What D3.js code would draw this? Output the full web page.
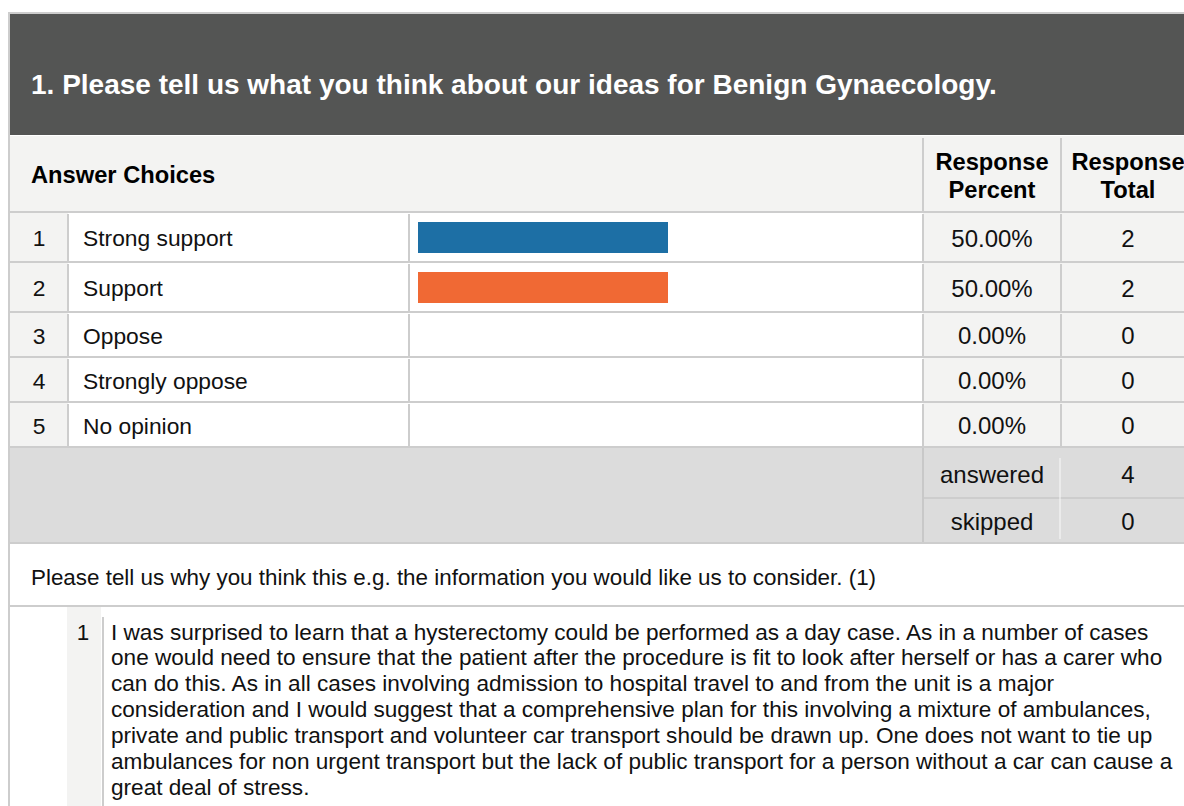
<!DOCTYPE html>
<html>
<head>
<meta charset="utf-8">
<script src="https://cdn.jsdelivr.net/npm/d3@7"></script>
<style>
  html, body { margin: 0; padding: 0; background: #fff; overflow: hidden; }
  svg { display: block; font-family: Arial, "Liberation Sans", sans-serif; }
</style>
</head>
<body>
<svg id="chart"></svg>
<script>
// survey data
var title = "1. Please tell us what you think about our ideas for Benign Gynaecology.";
var choices = ["Strong support", "Support", "Oppose", "Strongly oppose", "No opinion"];
var percents = [50, 50, 0, 0, 0];
var totals = [2, 2, 0, 0, 0];
var answered = 4;
var skipped = 0;
var barColors = ["#1d6fa5", "#f06934"];
var followUp = "Please tell us why you think this e.g. the information you would like us to consider. (1)";
var comments = [
  ["I was surprised to learn that a hysterectomy could be performed as a day case. As in a number of cases",
   "one would need to ensure that the patient after the procedure is fit to look after herself or has a carer who",
   "can do this. As in all cases involving admission to hospital travel to and from the unit is a major",
   "consideration and I would suggest that a comprehensive plan for this involving a mixture of ambulances,",
   "private and public transport and volunteer car transport should be drawn up. One does not want to tie up",
   "ambulances for non urgent transport but the lack of public transport for a person without a car can cause a",
   "great deal of stress."]
];

var W = 1184, H = 806;
var svg = d3.select("#chart").attr("width", W).attr("height", H);

var left = 10, right = 1200;
var col = {num: 10, label: 68, bar: 409, pct: 923, tot: 1061, end: 1195};
var lineCol = "#cdcdcd", lightBg = "#f3f3f2", sumBg = "#dcdcdc";
var labelSize = "22.8px", statSize = "24px", textCol = "#111";

// header
svg.append("rect").attr("x", left).attr("y", 14).attr("width", right - left).attr("height", 121).attr("fill", "#545554");
svg.append("line").attr("x1", left).attr("x2", right).attr("y1", 13).attr("y2", 13).attr("stroke", lineCol).attr("stroke-width", 2);
svg.append("text").attr("x", 31).attr("y", 84).attr("dominant-baseline", "central")
  .attr("fill", "#fff").style("font-weight", "bold").style("font-size", "28px").text(title);

// column header row
var hy0 = 136, hy1 = 212;
svg.append("rect").attr("x", left).attr("y", hy0).attr("width", right - left).attr("height", hy1 - hy0).attr("fill", lightBg);
svg.append("text").attr("x", 31).attr("y", 175).attr("dominant-baseline", "central")
  .style("font-weight", "bold").style("font-size", "23.7px").attr("fill", "#000").text("Answer Choices");
[[col.pct, col.tot], [col.tot, col.end]].forEach(function(c, i) {
  var cx = (c[0] + c[1]) / 2;
  var t = svg.append("text").attr("text-anchor", "middle").style("font-weight", "bold").style("font-size", "23.7px").attr("fill", "#000");
  t.append("tspan").attr("x", cx).attr("y", 170).text("Response");
  t.append("tspan").attr("x", cx).attr("y", 198).text(i == 0 ? "Percent" : "Total");
});

// rows
var rowH = percents.map(function(p) { return p > 0 ? 50 : 45; });
var rowY = [];
var yy = hy1;
rowH.forEach(function(h) { rowY.push(yy); yy += h; });
var rowsEnd = yy;

var x = d3.scaleLinear().domain([0, 100]).range([col.bar + 9, col.bar + 509]);

var rows = svg.selectAll("g.row").data(choices).enter().append("g").attr("class", "row")
  .attr("transform", function(d, i) { return "translate(0," + rowY[i] + ")"; });

rows.append("rect").attr("x", col.num).attr("width", col.label - col.num).attr("height", function(d, i) { return rowH[i]; }).attr("fill", lightBg);
rows.append("rect").attr("x", col.label).attr("width", col.pct - col.label).attr("height", function(d, i) { return rowH[i]; }).attr("fill", "#fff");
rows.append("rect").attr("x", col.pct).attr("width", col.end - col.pct).attr("height", function(d, i) { return rowH[i]; }).attr("fill", lightBg);

rows.append("text").attr("x", 39).attr("y", function(d, i) { return rowH[i] / 2 + 1; })
  .attr("text-anchor", "middle").attr("dominant-baseline", "central").style("font-size", labelSize).attr("fill", textCol)
  .text(function(d, i) { return i + 1; });
rows.append("text").attr("x", 83).attr("y", function(d, i) { return rowH[i] / 2 + 1; })
  .attr("dominant-baseline", "central").style("font-size", labelSize).attr("fill", textCol)
  .text(function(d) { return d; });
rows.append("rect").attr("x", x(0)).attr("y", 10)
  .attr("width", function(d, i) { return x(percents[i]) - x(0); }).attr("height", 31)
  .attr("fill", function(d, i) { return barColors[i % barColors.length]; });
rows.append("text").attr("x", (col.pct + col.tot) / 2).attr("y", function(d, i) { return rowH[i] / 2 + 1; })
  .attr("text-anchor", "middle").attr("dominant-baseline", "central").style("font-size", statSize).attr("fill", textCol)
  .text(function(d, i) { return d3.format(".2f")(percents[i]) + "%"; });
rows.append("text").attr("x", (col.tot + col.end) / 2).attr("y", function(d, i) { return rowH[i] / 2 + 1; })
  .attr("text-anchor", "middle").attr("dominant-baseline", "central").style("font-size", statSize).attr("fill", textCol)
  .text(function(d, i) { return totals[i]; });

// row separators
rowY.concat([rowsEnd]).forEach(function(y) {
  svg.append("line").attr("x1", left).attr("x2", right).attr("y1", y).attr("y2", y).attr("stroke", lineCol).attr("stroke-width", 2);
});
[col.label, col.bar, col.pct, col.tot].forEach(function(cx) {
  rowY.forEach(function(y, i) {
    svg.append("line").attr("x1", cx).attr("x2", cx).attr("y1", y + 2).attr("y2", y + rowH[i] - 1)
      .attr("stroke", lineCol).attr("stroke-width", 2);
  });
});
[col.pct, col.tot].forEach(function(cx) {
  svg.append("line").attr("x1", cx).attr("x2", cx).attr("y1", hy0 + 2).attr("y2", hy1 - 1).attr("stroke", lineCol).attr("stroke-width", 2);
});

// summary rows
var sy0 = rowsEnd + 1, sMid = 498, sy1 = 543;
svg.append("rect").attr("x", left).attr("y", sy0).attr("width", right - left).attr("height", sy1 - sy0).attr("fill", sumBg);
svg.append("line").attr("x1", col.pct).attr("x2", right).attr("y1", sMid).attr("y2", sMid).attr("stroke", "#c8c8c8").attr("stroke-width", 1.5);
svg.append("line").attr("x1", col.pct).attr("x2", col.pct).attr("y1", sy0).attr("y2", sy1).attr("stroke", "#c8c8c8").attr("stroke-width", 2);
svg.append("line").attr("x1", col.tot - 1).attr("x2", col.tot - 1).attr("y1", sy0 + 10).attr("y2", sy1 - 4).attr("stroke", "#fafafa").attr("stroke-width", 1);
[["answered", answered, (sy0 + sMid) / 2], ["skipped", skipped, (sMid + sy1) / 2]].forEach(function(r) {
  svg.append("text").attr("x", (col.pct + col.tot) / 2).attr("y", r[2] + 1).attr("text-anchor", "middle")
    .attr("dominant-baseline", "central").style("font-size", statSize).attr("fill", textCol).text(r[0]);
  svg.append("text").attr("x", (col.tot + col.end) / 2).attr("y", r[2] + 1).attr("text-anchor", "middle")
    .attr("dominant-baseline", "central").style("font-size", statSize).attr("fill", textCol).text(r[1]);
});
svg.append("line").attr("x1", left).attr("x2", right).attr("y1", sy1).attr("y2", sy1).attr("stroke", lineCol).attr("stroke-width", 2);

// follow-up question
svg.append("text").attr("x", 31).attr("y", 577).attr("dominant-baseline", "central")
  .style("font-size", "22.4px").attr("fill", textCol).text(followUp);
svg.append("line").attr("x1", left).attr("x2", right).attr("y1", 606).attr("y2", 606).attr("stroke", lineCol).attr("stroke-width", 2);

// comments
svg.append("rect").attr("x", 67).attr("y", 607).attr("width", 34).attr("height", H - 607).attr("fill", lightBg);
svg.append("line").attr("x1", 103).attr("x2", 103).attr("y1", 617).attr("y2", H).attr("stroke", lineCol).attr("stroke-width", 2);
comments.forEach(function(lines, ci) {
  svg.append("text").attr("x", 83).attr("y", 632).attr("text-anchor", "middle").attr("dominant-baseline", "central")
    .style("font-size", "22.4px").attr("fill", textCol).text(ci + 1);
  svg.append("g").selectAll("text").data(lines).enter().append("text")
    .attr("x", 111).attr("y", function(d, i) { return 632 + i * 25.9; }).attr("dominant-baseline", "central")
    .style("font-size", "22.6px").attr("fill", textCol).text(function(d) { return d; });
});

// outer left border
svg.append("line").attr("x1", 9).attr("x2", 9).attr("y1", 12).attr("y2", H).attr("stroke", lineCol).attr("stroke-width", 2);
</script>
</body>
</html>
